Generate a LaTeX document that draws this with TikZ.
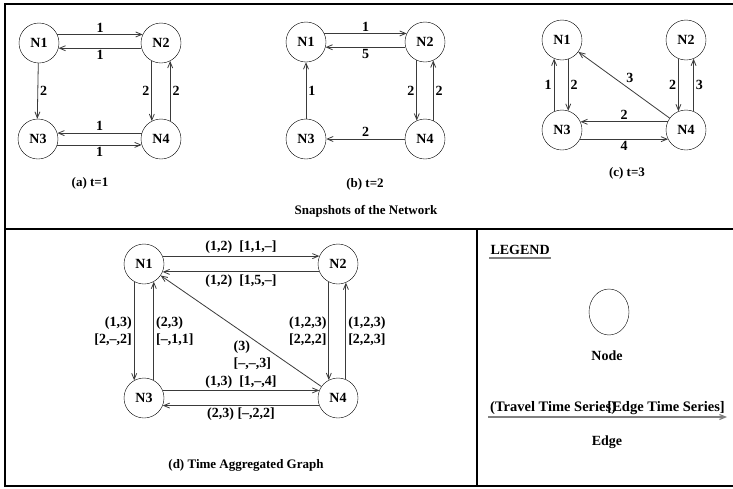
\documentclass[tikz,border=0pt]{standalone}
\usepackage{fontspec}
\setmainfont{Liberation Serif}
\usetikzlibrary{arrows.meta, positioning, calc, shapes.geometric}
\definecolor{edgegray}{HTML}{3A3A3A}
\definecolor{rulegray}{HTML}{808080}

\begin{document}
\begin{tikzpicture}[x=1pt, y=-1pt,
      font=\fontsize{14}{17}\selectfont\bfseries,
      vertex/.style={draw, circle, minimum size=40pt, inner sep=0pt},
      link/.style={draw=edgegray, line width=0.8pt,
        -{Straight Barb[length=6pt,width=5pt]}},
      wt/.style={inner sep=2pt},
      caption/.style={font=\fontsize{13}{15}\selectfont\bfseries},
      frame/.style={line width=1.3pt},
      >=Latex
    ]
      \useasboundingbox (0,0) rectangle (733,488);
      \draw[frame] (733,4) -- (5,4) -- (5,486) -- (733,486);
      \draw[frame] (5,229) -- (733,229);
      \draw[frame] (477,229) -- (477,486);

      \node[vertex] (n1a) at (39,43) {N1};
      \node[vertex] (n2a) at (161,43) {N2};
      \node[vertex] (n3a) at (38,139) {N3};
      \node[vertex] (n4a) at (161,139) {N4};
      \draw[link] (n1a.25) -- (n2a.155) node[midway, above, wt] {1};
      \draw[link] (n2a.195) -- (n1a.-15) node[midway, below, wt] {1};
      \draw[link] (n1a.-92) -- (n3a.92) node[midway, right, wt] {2};
      \draw[link] (n2a.-117) -- (n4a.117) node[midway, left, wt] {2};
      \draw[link] (n4a.63) -- (n2a.-63) node[midway, right, wt] {2};
      \draw[link] (n4a.163) -- (n3a.17) node[midway, above, wt] {1};
      \draw[link] (n3a.-17) -- (n4a.197) node[midway, below, wt] {1};
      \node[caption] (capa) at (90,183) {(a) t=1};

      \node[vertex] (n1b) at (306,42) {N1};
      \node[vertex] (n2b) at (425,42) {N2};
      \node[vertex] (n3b) at (306,139) {N3};
      \node[vertex] (n4b) at (425,139) {N4};
      \draw[link] (n1b.25) -- (n2b.155) node[midway, above, wt] {1};
      \draw[link] (n2b.195) -- (n1b.-15) node[midway, below, wt] {5};
      \draw[link] (n3b) -- (n1b) node[midway, right, wt] {1};
      \draw[link] (n2b.-114) -- (n4b.114) node[midway, left, wt] {2};
      \draw[link] (n4b.66) -- (n2b.-66) node[midway, right, wt] {2};
      \draw[link] (n4b) -- (n3b) node[midway, above, wt] {2};
      \node[caption] (capb) at (365,184) {(b) t=2};

      \node[vertex] (n1c) at (562,40) {N1};
      \node[vertex] (n2c) at (686,40) {N2};
      \node[vertex] (n3c) at (562,130) {N3};
      \node[vertex] (n4c) at (686,130) {N4};
      \draw[link] (n3c.113) -- (n1c.-113) node[midway, left, wt] {1};
      \draw[link] (n1c.-72) -- (n3c.72) node[midway, right, wt] {2};
      \draw[link] (n4c) -- (n1c) node[midway, above right, wt] {3};
      \draw[link] (n2c.-112) -- (n4c.112) node[midway, left, wt] {2};
      \draw[link] (n4c.68) -- (n2c.-68) node[midway, right, wt] {3};
      \draw[link] (n4c.156) -- (n3c.24) node[midway, above, wt] {2};
      \draw[link] (n3c.-27) -- (n4c.207) node[midway, below, wt] {4};
      \node[caption] (capc) at (627,173) {(c) t=3};

      \node[caption] (snap) at (366,211) {Snapshots of the Network};

      \node[vertex] (n1d) at (144,264) {N1};
      \node[vertex] (n2d) at (338,264) {N2};
      \node[vertex] (n3d) at (144,398) {N3};
      \node[vertex] (n4d) at (338,398) {N4};
      \draw[link] (n1d.23) -- (n2d.157)
        node[midway, above, wt] {(1,2)~~[1,1,–]};
      \draw[link] (n2d.203) -- (n1d.-23)
        node[midway, below, wt] {(1,2)~~[1,5,–]};
      \draw[link] (n1d.-119) -- (n3d.119)
        node[midway, left, wt, align=right] {(1,3)\\{}[2,–,2]};
      \draw[link] (n3d.61) -- (n1d.-61)
        node[midway, right, wt, align=left] {(2,3)\\{}[–,1,1]};
      \draw[link] (n2d.-117) -- (n4d.117)
        node[midway, left, wt, align=right] {(1,2,3)\\{}[2,2,2]};
      \draw[link] (n4d.67) -- (n2d.-67)
        node[midway, right, wt, align=left] {(1,2,3)\\{}[2,2,3]};
      \draw[link] (n4d) -- (n1d)
        node[pos=0.28, anchor=east, xshift=-3pt, wt, align=left] {(3)\\{}[–,–,3]};
      \draw[link] (n3d.22) -- (n4d.158)
        node[midway, above, wt] {(1,3)~~[1,–,4]};
      \draw[link] (n4d.202) -- (n3d.-22)
        node[midway, below, wt] {(2,3)~[–,2,2]};
      \node[caption] (capd) at (246,465) {(d) Time Aggregated Graph};

      \node[anchor=west] (legend) at (487,250) {LEGEND};
      \draw[rulegray, line width=1.8pt] (legend.south west) ++(2pt,0) -- ([xshift=-2pt]legend.south east);
      \node[draw, ellipse, minimum width=40pt, minimum height=46pt, inner sep=0pt] (nodeicon) at (609,312) {};
      \node (nodelbl) at (607,356) {Node};
      \coordinate (edgestart) at (488,417);
      \coordinate (edgeend) at (727,417);
      \draw[link, draw=rulegray, line width=1.2pt] (edgestart) -- (edgeend);
      \node[anchor=south west, wt, font=\fontsize{14.5}{17}\selectfont\bfseries] (travel) at (edgestart) {(Travel Time Series)};
      \node[anchor=south east, wt, font=\fontsize{14.5}{17}\selectfont\bfseries] (series) at (edgeend) {[Edge Time Series]};
      \node (edgelbl) at (607,442) {Edge};
    \end{tikzpicture}
\end{document}
